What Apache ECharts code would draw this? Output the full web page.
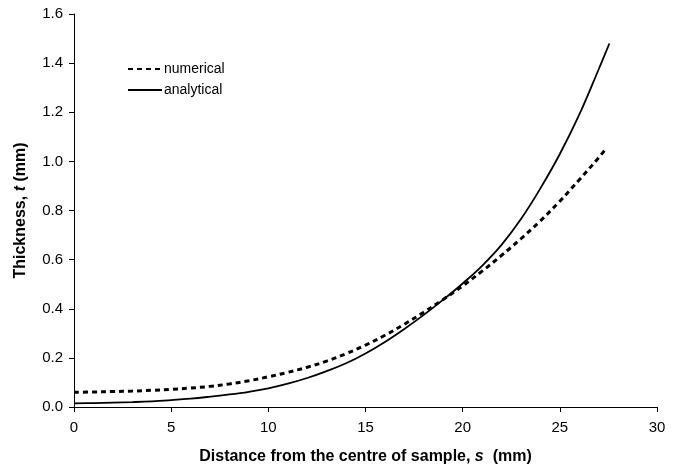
<!DOCTYPE html>
<html>
<head>
<meta charset="utf-8">
<script src="https://cdn.jsdelivr.net/npm/echarts@6/dist/echarts.min.js"></script>
<style>
  html, body { margin: 0; padding: 0; background: #fff; }
  #chart { width: 680px; height: 470px; }
</style>
</head>
<body>
<div id="chart"></div>
<script>
// Distance from the centre of the sample, s (mm)
const numericalS = [0, 1, 2, 3, 4, 5, 6, 7, 8, 9, 10, 11, 12, 13, 14, 15, 16, 17, 18, 19, 20, 21, 22, 23, 24, 25, 26, 27, 27.3];
// Thickness t (mm), numerical model
const numericalT = [0.060, 0.061, 0.063, 0.065, 0.068, 0.072, 0.077, 0.084, 0.094, 0.107, 0.123, 0.141, 0.162, 0.187, 0.217, 0.252, 0.292, 0.337, 0.386, 0.438, 0.493, 0.553, 0.617, 0.685, 0.758, 0.838, 0.925, 1.015, 1.045];

const analyticalS = [0, 1, 2, 3, 4, 5, 6, 7, 8, 9, 10, 11, 12, 13, 14, 15, 16, 17, 18, 19, 20, 21, 22, 23, 24, 25, 26, 27, 27.55];
// Thickness t (mm), analytical solution
const analyticalT = [0.015, 0.016, 0.018, 0.020, 0.023, 0.028, 0.034, 0.042, 0.051, 0.062, 0.076, 0.095, 0.118, 0.146, 0.178, 0.218, 0.265, 0.318, 0.375, 0.437, 0.503, 0.575, 0.660, 0.765, 0.890, 1.030, 1.190, 1.375, 1.480];

const seriesNames = ['numerical', 'analytical'];

const pairs = (xs, ys) => xs.map((x, i) => [x, ys[i]]);

const chart = echarts.init(document.getElementById('chart'));
const font = 'Liberation Sans, Arial, sans-serif';

const titleRich = {
  b: { fontFamily: font, fontSize: 16, fontWeight: 'bold', color: '#000' },
  bi: { fontFamily: font, fontSize: 16, fontWeight: 'bold', fontStyle: 'italic', color: '#000' }
};

chart.setOption({
  backgroundColor: '#ffffff',
  animation: false,
  grid: { left: 74, right: 23, top: 14, bottom: 63, containLabel: false },
  legend: {
    orient: 'vertical',
    left: 122,
    top: 57,
    itemWidth: 34,
    itemHeight: 10,
    itemGap: 7,
    data: seriesNames,
    itemStyle: { opacity: 0 },
    textStyle: { fontFamily: font, fontSize: 14, color: '#000', padding: [0, 0, 0, -3] }
  },
  xAxis: {
    type: 'value',
    min: 0,
    max: 30,
    interval: 5,
    name: '{b|Distance from the centre of sample, }{bi|s}{b|  (mm)}',
    nameLocation: 'middle',
    nameGap: 42,
    nameTextStyle: { rich: titleRich },
    axisLine: { lineStyle: { color: '#000', width: 1 } },
    axisTick: { show: true, length: 5, lineStyle: { color: '#000' } },
    axisLabel: { fontFamily: font, fontSize: 15, color: '#000', margin: 13 },
    splitLine: { show: false }
  },
  yAxis: {
    type: 'value',
    min: 0,
    max: 1.6,
    interval: 0.2,
    name: '{b|Thickness, }{bi|t}{b| (mm)}',
    nameLocation: 'middle',
    nameGap: 45,
    nameRotate: 90,
    nameTextStyle: { rich: titleRich },
    axisLine: { show: true, lineStyle: { color: '#000', width: 1 } },
    axisTick: { show: true, length: 5, lineStyle: { color: '#000' } },
    axisLabel: {
      fontFamily: font, fontSize: 15, color: '#000', margin: 11,
      formatter: v => v.toFixed(1)
    },
    splitLine: { show: false }
  },
  series: [
    {
      name: seriesNames[0],
      type: 'line',
      data: pairs(numericalS, numericalT),
      smooth: 0.4,
      symbol: 'none',
      lineStyle: { color: '#000', width: 3, type: [5, 4] },
      itemStyle: { color: '#000' },
      z: 3
    },
    {
      name: seriesNames[1],
      type: 'line',
      data: pairs(analyticalS, analyticalT),
      smooth: 0.4,
      symbol: 'none',
      lineStyle: { color: '#000', width: 1.8, type: 'solid' },
      itemStyle: { color: '#000' },
      z: 2
    }
  ]
});
</script>
</body>
</html>
